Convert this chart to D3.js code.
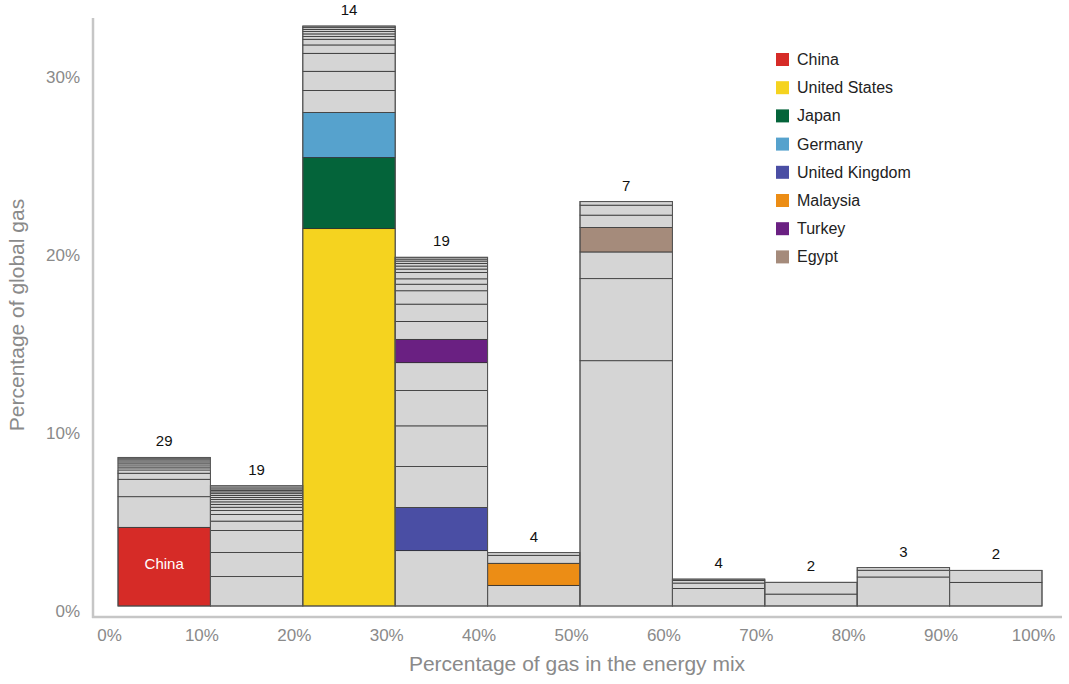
<!DOCTYPE html>
<html>
<head>
<meta charset="utf-8">
<script src="https://cdn.jsdelivr.net/npm/d3@7/dist/d3.min.js"></script>
<style>
  html, body { margin: 0; padding: 0; background: #ffffff; }
  svg { display: block; font-family: "Liberation Sans", Arial, Helvetica, sans-serif; }
</style>
</head>
<body>
<svg id="chart" width="1069" height="684"></svg>
<script>
// ---------- DATA ----------
const binStarts = [0, 10, 20, 30, 40, 50, 60, 70, 80, 90];
const binWidth = 10;
const binCounts = [29, 19, 14, 19, 4, 7, 4, 2, 3, 2];

// stacked country shares (% of global gas), bottom to top, per bin
const seg00_10 = [4.42, 1.72, 0.98, 0.34, 0.15, 0.05, 0.05, 0.045, 0.045, 0.04, 0.04, 0.035, 0.035, 0.035,
                  0.03, 0.03, 0.03, 0.03, 0.025, 0.025, 0.025, 0.025, 0.02, 0.02, 0.02, 0.02, 0.02, 0.02, 0.02];
const seg10_20 = [1.65, 1.35, 1.24, 0.53, 0.37, 0.22, 0.19, 0.16, 0.14, 0.13, 0.12, 0.11, 0.10, 0.10,
                  0.09, 0.08, 0.07, 0.06, 0.05];
const seg20_30 = [21.2, 3.99, 2.53, 1.24, 1.08, 1.01, 0.47, 0.32, 0.15, 0.15, 0.13, 0.12, 0.10, 0.09];
const seg30_40 = [3.11, 2.42, 2.30, 2.29, 1.98, 1.57, 1.31, 1.01, 0.97, 0.75, 0.37, 0.30, 0.36, 0.19,
                  0.17, 0.15, 0.13, 0.11, 0.10];
const seg40_50 = [1.16, 1.24, 0.45, 0.15];
const seg50_60 = [13.78, 4.61, 1.50, 1.37, 0.70, 0.56, 0.20];
const seg60_70 = [0.99, 0.30, 0.15, 0.07];
const seg70_80 = [0.67, 0.66];
const seg80_90 = [1.63, 0.38, 0.15];
const seg90_100 = [1.33, 0.67];
const binSegments = [seg00_10, seg10_20, seg20_30, seg30_40, seg40_50, seg50_60, seg60_70, seg70_80, seg80_90, seg90_100];

// highlighted countries: which bin and which segment (from the bottom)
const highlightCountries = ["China", "United States", "Japan", "Germany", "United Kingdom", "Malaysia", "Turkey", "Egypt"];
const highlightColors    = ["#d62b27", "#f5d31f", "#04643a", "#56a2cd", "#4a4ea4", "#ec8d15", "#6a2082", "#a58b7b"];
const highlightBin       = [0, 2, 2, 2, 3, 4, 3, 5];
const highlightIndex     = [0, 0, 1, 2, 1, 1, 6, 3];

const yTicks = [0, 10, 20, 30];
const xTicks = [0, 10, 20, 30, 40, 50, 60, 70, 80, 90, 100];

// ---------- CHART ----------
const svg = d3.select("#chart");
const x = d3.scaleLinear().domain([0, 100]).range([118, 1042]);
const y = d3.scaleLinear().domain([0, 33]).range([606, 606 - 33 * 17.8]);

const greyFill = "#d5d5d5";

// build segment records
const records = [];
binSegments.forEach((segs, bi) => {
  let acc = 0;
  segs.forEach((v, si) => {
    let color = greyFill, name = null;
    for (let h = 0; h < highlightCountries.length; h++) {
      if (highlightBin[h] === bi && highlightIndex[h] === si) { color = highlightColors[h]; name = highlightCountries[h]; }
    }
    records.push({ bin: bi, y0: acc, y1: acc + v, color, name });
    acc += v;
  });
});

const barsG = svg.append("g");
barsG.selectAll("rect.seg")
  .data(records)
  .join("rect")
  .attr("class", "seg")
  .attr("x", d => x(binStarts[d.bin]))
  .attr("width", d => x(binStarts[d.bin] + binWidth) - x(binStarts[d.bin]))
  .attr("y", d => y(d.y1))
  .attr("height", d => y(d.y0) - y(d.y1))
  .attr("fill", d => d.color)
  .attr("stroke", "#2a2a2a")
  .attr("stroke-width", d => (y(d.y0) - y(d.y1)) < 1.2 ? 0.3 : 0.75);

// outline of each bin (grey sides)
const totals = binSegments.map(s => d3.sum(s));
barsG.selectAll("rect.outline")
  .data(binStarts)
  .join("rect")
  .attr("class", "outline")
  .attr("x", d => x(d))
  .attr("width", d => x(d + binWidth) - x(d))
  .attr("y", (d, i) => y(totals[i]))
  .attr("height", (d, i) => y(0) - y(totals[i]))
  .attr("fill", "none")
  .attr("stroke", "#555")
  .attr("stroke-width", 1);

// China label inside bar
records.filter(d => d.name === "China").forEach(d => {
  svg.append("text")
    .attr("x", x(binStarts[d.bin] + binWidth / 2))
    .attr("y", (y(d.y0) + y(d.y1)) / 2 + 2)
    .attr("text-anchor", "middle")
    .attr("fill", "#ffffff")
    .attr("font-size", 15)
    .text("China");
});

// count labels
svg.append("g").selectAll("text")
  .data(binStarts)
  .join("text")
  .attr("x", d => x(d + binWidth / 2))
  .attr("y", (d, i) => y(totals[i]) - 11)
  .attr("text-anchor", "middle")
  .attr("font-size", 15)
  .attr("fill", "#111")
  .text((d, i) => binCounts[i]);

// axes lines (offset style)
const axisColor = "#c6c6c6";
svg.append("line").attr("x1", 93).attr("x2", 93).attr("y1", 18).attr("y2", 618)
  .attr("stroke", axisColor).attr("stroke-width", 2.5);
svg.append("line").attr("x1", 92).attr("x2", 1062).attr("y1", 617).attr("y2", 617)
  .attr("stroke", axisColor).attr("stroke-width", 2.5);

// y axis labels
const yAxis = d3.axisLeft(y).tickValues(yTicks).tickSize(0).tickPadding(13).tickFormat(d => d + "%");
const yg = svg.append("g").attr("transform", "translate(93,5)").call(yAxis);
yg.select(".domain").remove();
yg.selectAll("text").attr("font-size", 17).attr("fill", "#8a8a8a")
  .attr("font-family", "Liberation Sans, Arial, sans-serif");

// x axis labels
const xAxis = d3.axisBottom(x).tickValues(xTicks).tickSize(0).tickPadding(12).tickFormat(d => d + "%");
const xg = svg.append("g").attr("transform", "translate(-9,617)").call(xAxis);
xg.select(".domain").remove();
xg.selectAll("text").attr("font-size", 17).attr("fill", "#8a8a8a")
  .attr("font-family", "Liberation Sans, Arial, sans-serif");

// axis titles
svg.append("text")
  .attr("x", 577).attr("y", 671)
  .attr("text-anchor", "middle")
  .attr("font-size", 21).attr("fill", "#8a8a8a")
  .text("Percentage of gas in the energy mix");
svg.append("text")
  .attr("transform", "translate(24,315) rotate(-90)")
  .attr("text-anchor", "middle")
  .attr("font-size", 21).attr("fill", "#8a8a8a")
  .text("Percentage of global gas");

// legend
const legend = svg.append("g").attr("transform", "translate(776,53)");
const items = legend.selectAll("g")
  .data(highlightCountries)
  .join("g")
  .attr("transform", (d, i) => `translate(0,${i * 28.2})`);
items.append("rect").attr("width", 13).attr("height", 13)
  .attr("fill", (d, i) => highlightColors[i]);
items.append("text").attr("x", 21).attr("y", 12)
  .attr("font-size", 16).attr("fill", "#222")
  .text(d => d);
</script>
</body>
</html>
